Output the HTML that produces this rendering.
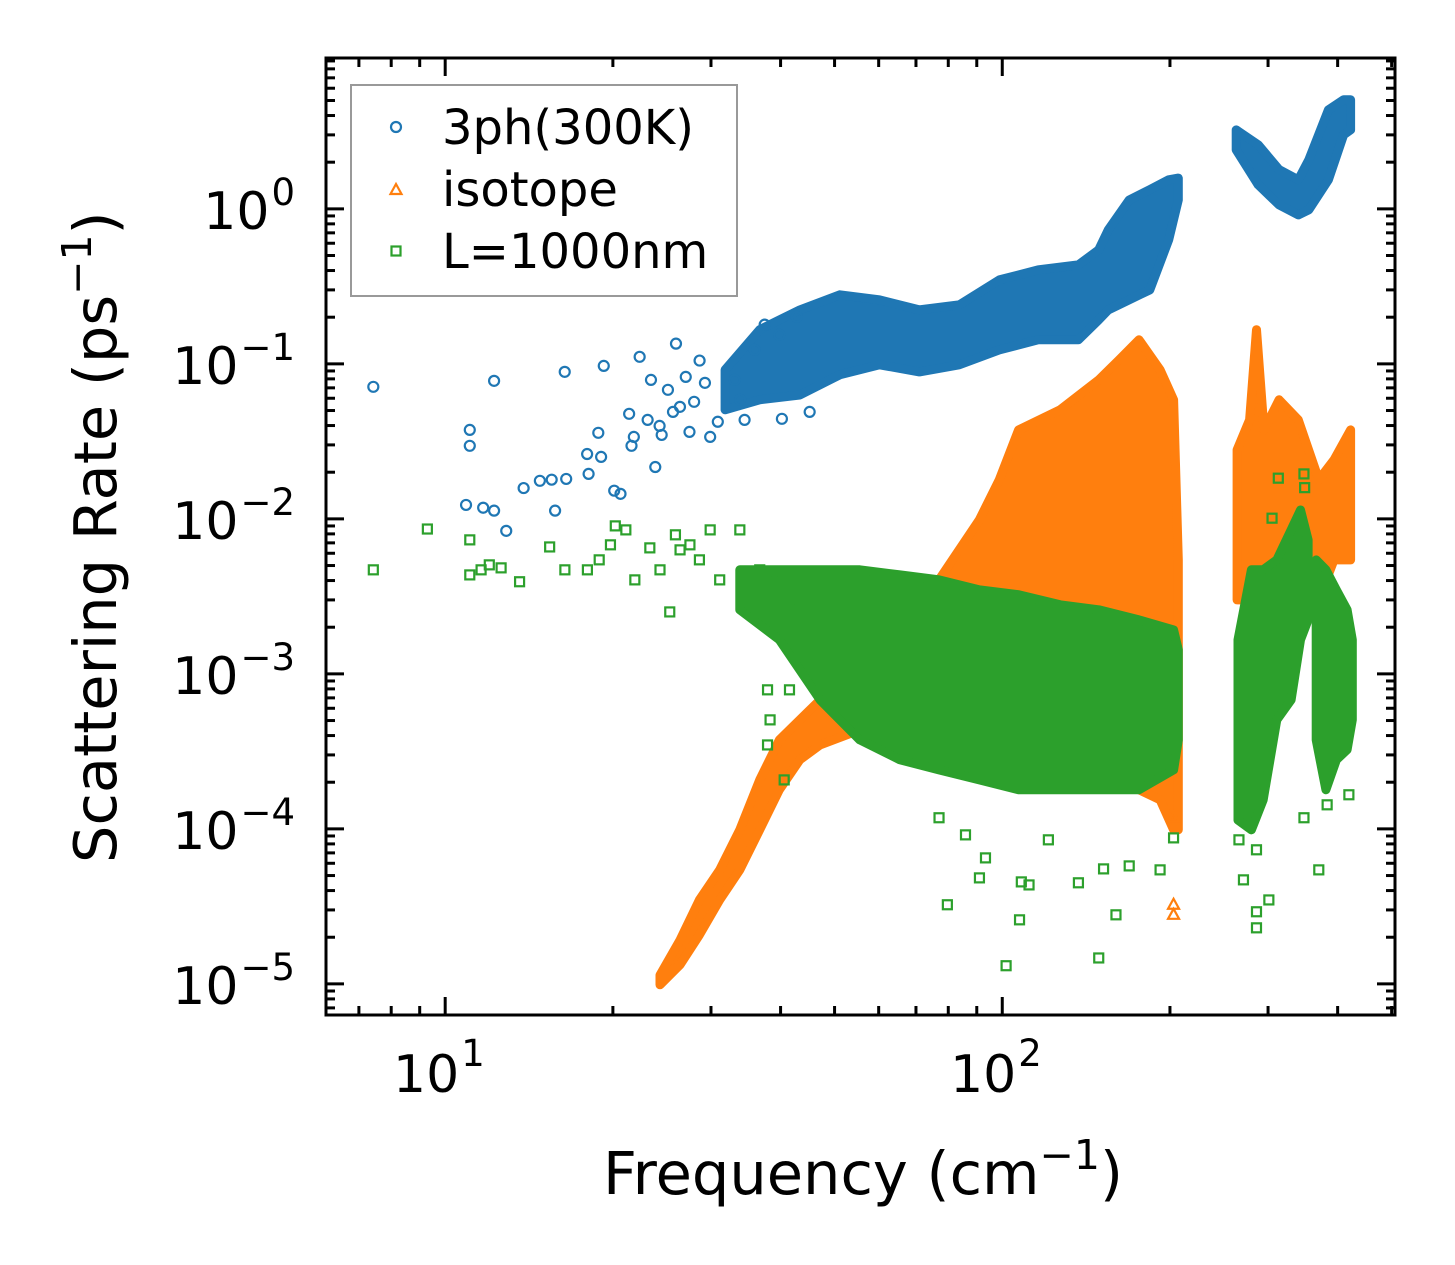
<!DOCTYPE html>
<html><head><meta charset="utf-8"><title>Scattering Rate vs Frequency</title>
<style>
html,body{margin:0;padding:0;background:#fff;}
svg{display:block;font-family:"DejaVu Sans","Liberation Sans",sans-serif;}
</style></head>
<body>
<svg id="chart" width="1455" height="1265" viewBox="0 0 1455 1265" xmlns="http://www.w3.org/2000/svg">
<rect x="0" y="0" width="1455" height="1265" fill="#fff"/>
<g id="marks"></g>
<g id="axes"></g>
<g id="legend"></g>
</svg>
<script>
// ---- data (frequency in cm^-1, rate in ps^-1) ----
const xDomain = [6.11, 507];
const yDomain = [6.3e-6, 9.4];
const xTickDecades = [1, 2];
const yTickDecades = [0, -1, -2, -3, -4, -5];

// 3ph(300K) scattered points
const ph3Freq = [7.43,11.07,11.07,12.24,10.9,11.7,12.24,12.87,13.83,14.79,15.53,16.39,15.75,16.49,17.98,18.09,18.83,19.05,19.26,20.11,20.64,21.39,21.6,21.81,22.34,23.09,23.41,23.83,24.26,24.47,25.11,25.64,25.96,26.39,27.03,27.45,27.98,28.62,29.26,29.9,30.86,33.09,33.84,34.47,35.96,37.45,39.79,40.22,42.77,45.11];
const ph3Rate = [0.0711,0.0375,0.0296,0.0777,0.0123,0.0118,0.0113,0.00837,0.0158,0.0176,0.0179,0.0888,0.0113,0.0181,0.0262,0.0195,0.0359,0.0251,0.097,0.0152,0.0145,0.0476,0.0296,0.0338,0.111,0.0435,0.0788,0.0216,0.0398,0.0348,0.068,0.049,0.135,0.0528,0.0824,0.0364,0.0569,0.105,0.0754,0.0338,0.0423,0.0788,0.0586,0.0435,0.123,0.179,0.154,0.0442,0.201,0.049];
// 3ph dense bands (envelopes)
const ph3BandFreq = [31.8,36.7,43.3,51.1,60.2,71.0,83.7,98.8,116,137,149,155,169,184,199,207];
const ph3BandHi   = [0.0915,0.166,0.223,0.279,0.259,0.223,0.240,0.348,0.404,0.435,0.544,0.732,1.14,1.33,1.54,1.58];
const ph3BandLo   = [0.0505,0.0586,0.063,0.085,0.0986,0.0888,0.0986,0.123,0.143,0.143,0.192,0.223,0.259,0.300,0.631,1.14];
const ph3Band2Freq = [263,288,314,340,355,385,410,422];
const ph3Band2Hi   = [3.23,2.59,1.79,1.54,2.07,4.35,5.05,5.05];
const ph3Band2Lo   = [2.40,1.43,1.06,0.914,0.986,1.54,3.0,3.23];

// isotope
const isoBandFreq = [24.3,26.4,28.6,31.1,33.8,36.7,39.8,43.3,47.1,55.5,65.5,77.0,91.0,98.8,107,127,149,162,176,192,203,207];
const isoBandHi   = [1.14e-5,1.92e-5,3.48e-5,5.44e-5,9.86e-5,0.000207,0.000375,0.000505,0.000679,0.00166,0.003,0.00404,0.00986,0.0179,0.0375,0.0505,0.0788,0.106,0.143,0.0915,0.0586,0.00544];
const isoBandLo   = [9.86e-6,1.33e-5,2.07e-5,3.48e-5,5.44e-5,9.86e-5,0.000179,0.000279,0.000348,0.000435,0.000505,0.000505,0.000505,0.000505,0.000505,0.000375,0.000279,0.000207,0.000179,0.000154,9.86e-5,9.86e-5];
const isoBand2Freq = [264,278,286,295,314,340,370,394,422];
const isoBand2Hi   = [0.0279,0.0435,0.166,0.0375,0.0586,0.0435,0.0179,0.024,0.0375];
const isoBand2Lo   = [0.003,0.003,0.003,0.00223,0.00223,0.003,0.003,0.00544,0.00544];
const isoFreq = [203,203,203];
const isoRate = [3.24e-5,2.79e-5,0.000118];

// L=1000nm
const lFreq = [7.43,9.29,11.07,11.07,11.6,12.0,12.6,13.6,15.4,16.4,18.0,18.9,19.8,20.2,21.1,21.9,23.3,24.3,25.3,25.9,26.4,27.5,28.6,29.9,31.1,33.8,36.7,37.9,38.3,39.0,41.5,43.3,37.9,40.6,
  77.0,79.7,85.9,93.3,91.0,101.6,107.4,108.2,111.7,121,137,149,160,152,169,192,203,271,286,286,286,301,348,370,419,383,266,313,348,349,305];
const lRate = [0.00469,0.0086,0.00435,0.00732,0.00469,0.00505,0.00483,0.00393,0.00659,0.00469,0.00469,0.00544,0.0068,0.00901,0.00849,0.00404,0.0065,0.00469,0.00251,0.00789,0.00631,0.0068,0.00544,0.00849,0.00404,0.00849,0.00469,0.000789,0.000505,0.00404,0.000789,0.00259,0.000348,0.000207,
  0.000118,3.24e-5,9.15e-5,6.5e-5,4.83e-5,1.31e-5,2.59e-5,4.55e-5,4.35e-5,8.5e-5,4.49e-5,1.47e-5,2.79e-5,5.52e-5,5.77e-5,5.44e-5,8.75e-5,4.69e-5,7.33e-5,2.3e-5,2.92e-5,3.48e-5,0.000118,5.44e-5,0.000166,0.000143,8.5e-5,0.0183,0.0195,0.0159,0.0101];
const lBandFreq = [33.8,39.8,47.1,55.5,65.5,77.0,91.0,107,127,149,176,203,207];
const lBandHi   = [0.00469,0.00469,0.00469,0.00469,0.00435,0.00404,0.00348,0.00324,0.00279,0.00259,0.00223,0.00192,0.00143];
const lBandLo   = [0.00259,0.00166,0.000679,0.000375,0.000279,0.00024,0.000207,0.000179,0.000179,0.000179,0.000179,0.00024,0.000375];
const lBand2Freq = [265,280,294,311,330,343,354];
const lBand2Hi   = [0.00166,0.00469,0.00469,0.00544,0.00849,0.0114,0.00732];
const lBand2Lo   = [0.000114,9.86e-5,0.000154,0.000505,0.000679,0.00166,0.00223];
const lBand3Freq = [366,381,398,416,425];
const lBand3Hi   = [0.00544,0.00469,0.00348,0.00259,0.00166];
const lBand3Lo   = [0.000375,0.000179,0.000279,0.000324,0.000505];

// ---- layout ----
const PL = 326, PR = 1395, PT = 58, PB = 1015;
const NS = 'http://www.w3.org/2000/svg';
const C_BLUE = '#1f77b4', C_ORANGE = '#ff7f0e', C_GREEN = '#2ca02c';
function xScale(v){ return PL + (Math.log10(v) - Math.log10(xDomain[0])) / (Math.log10(xDomain[1]) - Math.log10(xDomain[0])) * (PR - PL); }
function yScale(v){ return PB - (Math.log10(v) - Math.log10(yDomain[0])) / (Math.log10(yDomain[1]) - Math.log10(yDomain[0])) * (PB - PT); }
function mk(tag, attrs, parent){ const e = document.createElementNS(NS, tag); for (const k in attrs) e.setAttribute(k, attrs[k]); parent.appendChild(e); return e; }

const marks = document.getElementById('marks');
const clip = mk('clipPath', {id:'pc'}, marks);
mk('rect', {x:PL, y:PT, width:PR-PL, height:PB-PT}, clip);
const plotG = mk('g', {'clip-path':'url(#pc)'}, marks);



function band(freq, hi, lo, color, name){
  let pts = [];
  for (let i = 0; i < freq.length; i++) pts.push(xScale(freq[i]).toFixed(1) + ',' + yScale(hi[i]).toFixed(1));
  for (let i = freq.length - 1; i >= 0; i--) pts.push(xScale(freq[i]).toFixed(1) + ',' + yScale(lo[i]).toFixed(1));
  const p = mk('polygon', {points: pts.join(' '), fill: color, stroke: color, 'stroke-width': 9, 'stroke-linejoin': 'round'}, plotG);
  
  
}
function marker(kind, cx, cy, color, parent){
  let e;
  if (kind === 'circle') e = mk('circle', {cx: cx, cy: cy, r: 5, fill: 'none', stroke: color, 'stroke-width': 2.2}, parent);
  else if (kind === 'tri') e = mk('polygon', {points: `${cx},${cy-6} ${cx-5.5},${cy+4} ${cx+5.5},${cy+4}`, fill: 'none', stroke: color, 'stroke-width': 2.2}, parent);
  else e = mk('rect', {x: cx-4.5, y: cy-4.5, width: 9, height: 9, fill: 'none', stroke: color, 'stroke-width': 2.2}, parent);
  return e;
}
function scatter(freq, rate, kind, color, name){
  for (let i = 0; i < freq.length; i++){
    const e = marker(kind, xScale(freq[i]), yScale(rate[i]), color, plotG);
    
    
  }
}
band(ph3BandFreq, ph3BandHi, ph3BandLo, C_BLUE, '3ph-band-low-freq');
band(ph3Band2Freq, ph3Band2Hi, ph3Band2Lo, C_BLUE, '3ph-band-high-freq');
scatter(ph3Freq, ph3Rate, 'circle', C_BLUE, '3ph-point');
band(isoBandFreq, isoBandHi, isoBandLo, C_ORANGE, 'isotope-band-main');
band(isoBand2Freq, isoBand2Hi, isoBand2Lo, C_ORANGE, 'isotope-band-high-freq');
scatter(isoFreq, isoRate, 'tri', C_ORANGE, 'isotope-point');
band(lBandFreq, lBandHi, lBandLo, C_GREEN, 'boundary-band-main');
band(lBand2Freq, lBand2Hi, lBand2Lo, C_GREEN, 'boundary-band-high-a');
band(lBand3Freq, lBand3Hi, lBand3Lo, C_GREEN, 'boundary-band-high-b');
scatter(lFreq, lRate, 'square', C_GREEN, 'boundary-point');

// ---- axes ----
const axes = document.getElementById('axes');
const frame = mk('rect', {x:PL, y:PT, width:PR-PL, height:PB-PT, fill:'none', stroke:'#000', 'stroke-width':3}, axes);


function tickLine(x1,y1,x2,y2,name){ const l = mk('line', {x1:x1,y1:y1,x2:x2,y2:y2,stroke:'#000','stroke-width':3}, axes);   }
for (let d = 0; d <= 3; d++){
  for (let m = 1; m <= 9; m++){
    const v = m * Math.pow(10, d);
    if (v < xDomain[0] || v > xDomain[1]) continue;
    const x = xScale(v), len = (m === 1) ? 18 : 9;
    tickLine(x, PB, x, PB - len, 'x-tick');
    tickLine(x, PT, x, PT + len, 'x-tick-top');
  }
}
for (let d = -6; d <= 1; d++){
  for (let m = 1; m <= 9; m++){
    const v = m * Math.pow(10, d);
    if (v < yDomain[0] || v > yDomain[1]) continue;
    const y = yScale(v), len = (m === 1) ? 18 : 9;
    tickLine(PL, y, PL + len, y, 'y-tick');
    tickLine(PR, y, PR - len, y, 'y-tick-right');
  }
}
xTickDecades.forEach(function(d){
  const x = xScale(Math.pow(10, d));
  const t = mk('text', {x: x + 14, y: 1092, 'font-size': 52, 'text-anchor': 'end', fill: '#000'}, axes);
  t.textContent = '10';
  
  
  const s = mk('text', {x: x + 16, y: 1066, 'font-size': 37, fill: '#000'}, axes);
  s.textContent = String(d);
  
  
});
yTickDecades.forEach(function(d){
  const y = yScale(Math.pow(10, d));
  const exp = d === 0 ? '0' : '\u2212' + Math.abs(d);
  const s = mk('text', {x: 295, y: y - 4, 'font-size': 37, 'text-anchor': 'end', fill: '#000'}, axes);
  s.textContent = exp;
  
  
  const w = s.getComputedTextLength();
  const t = mk('text', {x: 295 - w - 2, y: y + 20, 'font-size': 52, 'text-anchor': 'end', fill: '#000'}, axes);
  t.textContent = '10';
  
  
});
</script>
<script>
const ax = document.getElementById('axes');
function addText(html, attrs, name){
  const t = document.createElementNS('http://www.w3.org/2000/svg','text');
  for (const k in attrs) t.setAttribute(k, attrs[k]);
  t.innerHTML = html;
  
  
  ax.appendChild(t);
  return t;
}
addText('Frequency (cm<tspan font-size="41" dy="-25">\u22121</tspan><tspan dy="25">)</tspan>', {x:603, y:1194, 'font-size':59, fill:'#000'}, 'x-axis-title');
addText('Scattering Rate (ps<tspan font-size="41" dy="-25">\u22121</tspan><tspan dy="25">)</tspan>', {x:0, y:0, 'font-size':59, fill:'#000', transform:'translate(116,863) rotate(-90)'}, 'y-axis-title');

const lg = document.getElementById('legend');
const NS2 = 'http://www.w3.org/2000/svg';
function el(tag, attrs){ const e = document.createElementNS(NS2, tag); for (const k in attrs) e.setAttribute(k, attrs[k]); lg.appendChild(e); return e; }
const box = el('rect', {x:351, y:85, width:386, height:211, fill:'#fff', 'fill-opacity':0.85, stroke:'#999', 'stroke-width':2});


const m1 = el('circle', {cx:396, cy:127, r:5, fill:'none', stroke:'#1f77b4', 'stroke-width':2.2});


const m2 = el('polygon', {points:'396,184 390.5,194 401.5,194', fill:'none', stroke:'#ff7f0e', 'stroke-width':2.2});


const m3 = el('rect', {x:391.5, y:246.5, width:9, height:9, fill:'none', stroke:'#2ca02c', 'stroke-width':2.2});


[['3ph(300K)',144,'legend-entry-3ph'],['isotope',206,'legend-entry-isotope'],['L=1000nm',268,'legend-entry-boundary']].forEach(function(a){
  const t = el('text', {x:442, y:a[1], 'font-size':48, fill:'#000'});
  t.textContent = a[0];
  
  
});
</script>
</body></html>
